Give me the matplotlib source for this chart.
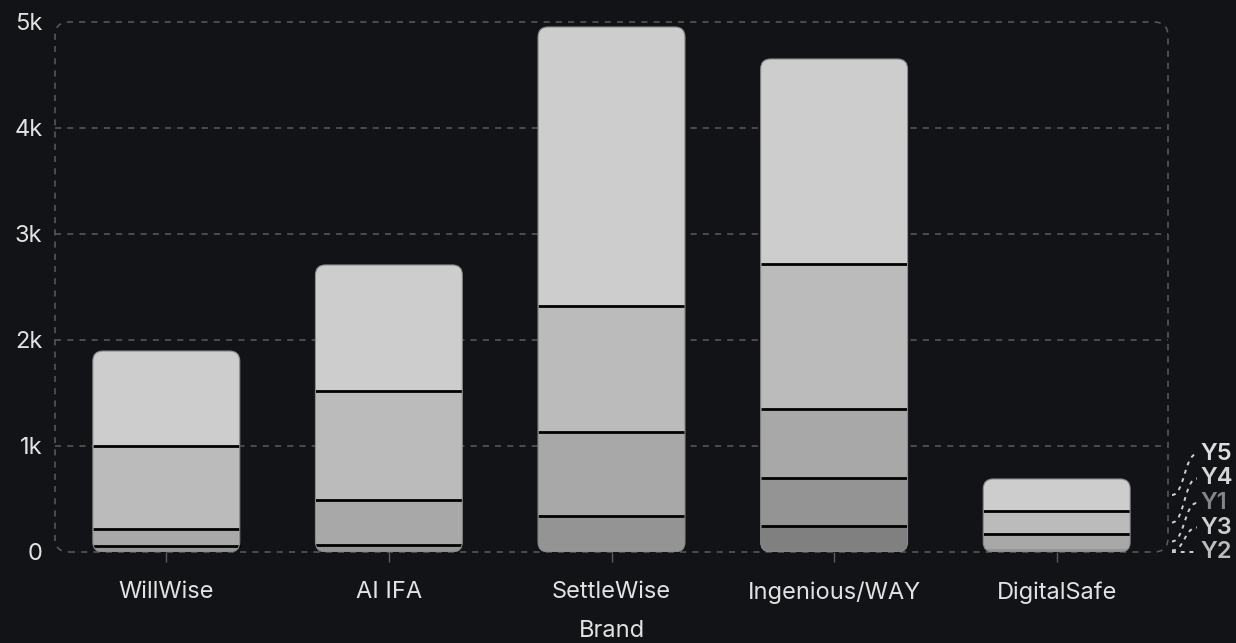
import numpy as np
import matplotlib
matplotlib.use("Agg")
import matplotlib.pyplot as plt
from matplotlib.patches import FancyBboxPatch, PathPatch
from matplotlib.path import Path
from matplotlib.transforms import IdentityTransform

brands = ["WillWise", "AI IFA", "SettleWise", "Ingenious/WAY", "DigitalSafe"]
# stacked bottom -> top
series_names = ["Y2", "Y3", "Y1", "Y4", "Y5"]
y2 = [0, 0, 0, 245, 0]
y3 = [57, 66, 340, 453, 30]
y1 = [160, 425, 792, 651, 140]
y4 = [783, 1028, 1189, 1368, 217]
y5 = [896, 1189, 2632, 1934, 302]
series_values = [y2, y3, y1, y4, y5]
series_colors = ["#808080", "#949494", "#a8a8a8", "#bbbbbb", "#cdcdcd"]
label_colors = ["#bdbdbd", "#cfcfcf", "#858585", "#d6d6d6", "#dedede"]
y_ticks = [0, 1000, 2000, 3000, 4000, 5000]
y_tick_labels = ["0", "1k", "2k", "3k", "4k", "5k"]

bg = "#121316"
txt = "#e2e2e2"
grid_c = "#5c5c5c"

plt.rcParams["font.family"] = ["Inter", "DejaVu Sans"]

fig = plt.figure(figsize=(12.36, 6.43), dpi=100, facecolor=bg)
ax = fig.add_axes([55 / 1236, 91 / 643, 1113 / 1236, 530 / 643])
ax.set_facecolor(bg)
ax.set_xlim(-0.5, len(brands) - 0.5)
ax.set_ylim(0, 5000)
for s in ax.spines.values():
    s.set_visible(False)

# grid lines inside the dashed frame
for t in y_ticks[1:-1]:
    ax.axhline(t, color=grid_c, lw=1.1, ls=(0, (4, 4)), zorder=0)

# rounded dashed frame
aw = ax.get_position().width * fig.get_figwidth() * fig.dpi
ah = ax.get_position().height * fig.get_figheight() * fig.dpi
frame = FancyBboxPatch((0, 0), 1, 1, boxstyle="round,pad=0,rounding_size=%f" % (14 / aw),
                       mutation_aspect=aw / ah, transform=ax.transAxes, fill=False,
                       edgecolor=grid_c, lw=1.1, ls=(0, (4, 4)), clip_on=False, zorder=0)
ax.add_patch(frame)

x = np.arange(len(brands))
width = 0.66
vals = np.array(series_values, dtype=float)
totals = vals.sum(axis=0)

px_x = ax.transData.transform((1, 0))[0] - ax.transData.transform((0, 0))[0]
px_y = ax.transData.transform((0, 1000))[1] - ax.transData.transform((0, 0))[1]
px_y /= 1000.0
r_px = 10

clips = []
for i in range(len(brands)):
    p = FancyBboxPatch((x[i] - width / 2, 0), width, totals[i],
                       boxstyle="round,pad=0,rounding_size=%f" % (r_px / px_x),
                       mutation_aspect=px_x / px_y, facecolor="none",
                       edgecolor="#8a8a8a", lw=0.8, zorder=4)
    ax.add_patch(p)
    clips.append(p)

bottom = np.zeros(len(brands))
for k, name in enumerate(series_names):
    bars = ax.bar(x, vals[k], width, bottom=bottom, color=series_colors[k],
                  edgecolor="none", zorder=2)
    for i, b in enumerate(bars):
        b.set_clip_path(clips[i])
    bottom = bottom + vals[k]
    # separator line at the top of each segment (not the bar top, not tiny ones)
    for i in range(len(brands)):
        if vals[k][i] * px_y > 5 and bottom[i] < totals[i] - 1:
            ax.hlines(bottom[i], x[i] - width / 2, x[i] + width / 2,
                      color="black", lw=2, zorder=3)

ax.set_yticks(y_ticks)
ax.set_yticklabels(y_tick_labels)
ax.set_xticks(x)
ax.set_xticklabels(brands)
ax.tick_params(axis="y", length=0, pad=9, labelsize=17, labelcolor=txt)
ax.tick_params(axis="x", length=7, width=1, color=grid_c, pad=14, labelsize=17, labelcolor=txt)
ax.set_xlabel("Brand", fontsize=17, color=txt, labelpad=12)

# end labels for the last bar, placed at segment midpoints with collision spacing
last = len(brands) - 1
cum = np.concatenate([[0], np.cumsum(vals[:, last])])
mids = (cum[:-1] + cum[1:]) / 2
x_start = ax.transAxes.transform((1, 0))[0] + 4
x_end = x_start + 25
zero_px = ax.transData.transform((0, 0))[1]
order = np.argsort(mids, kind="stable")
prev = None
for k in order:
    y0 = ax.transData.transform((0, mids[k]))[1]
    ly = max(y0, zero_px) if prev is None else max(y0, prev + 24.5)
    prev = ly
    xm = (x_start + x_end) / 2
    path = Path([(x_start, y0), (xm, y0), (xm, ly), (x_end, ly)],
                [Path.MOVETO, Path.CURVE4, Path.CURVE4, Path.CURVE4])
    fig.patches.append(PathPatch(path, transform=IdentityTransform(), fill=False,
                                 edgecolor="#d0d0d0", lw=1.4, ls=(0, (2, 2.5))))
    fig.text((x_end + 3) / 1236, ly / 643, series_names[k], color=label_colors[k],
             fontsize=17, fontweight="semibold", va="center", ha="left")

fig.savefig("out.png", dpi=100, facecolor=bg)
